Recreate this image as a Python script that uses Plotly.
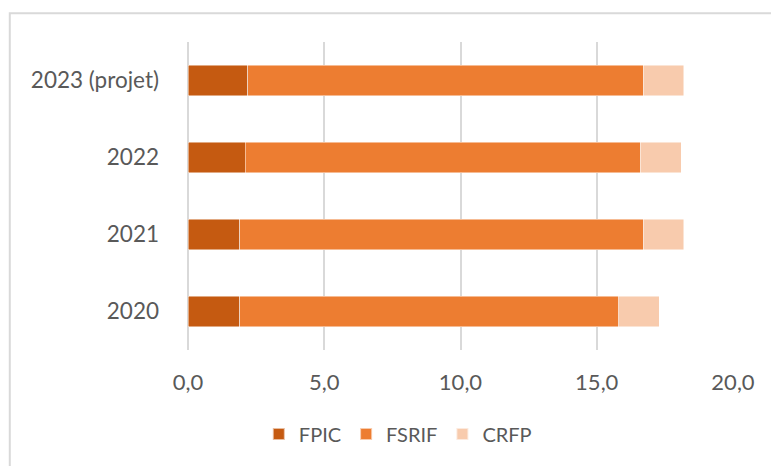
import plotly.graph_objects as go

# Péréquation horizontale, en milliards d'euros
years = ["2020", "2021", "2022", "2023 (projet)"]
fpic = [1.9, 1.9, 2.1, 2.2]
fsrif = [13.9, 14.8, 14.5, 14.5]
crfp = [1.5, 1.5, 1.5, 1.5]

series = [
    ("FPIC", fpic, "#C55A11"),
    ("FSRIF", fsrif, "#ED7D31"),
    ("CRFP", crfp, "#F8CBAD"),
]

FONT = "Lato"
TEXT = "#595959"
GRID = "#D9D9D9"

fig = go.Figure()
for name, vals, color in series:
    fig.add_trace(go.Bar(
        y=years, x=vals, name=name, orientation="h",
        marker=dict(color=color, line=dict(color="rgba(255,255,255,0.6)", width=0.8)),
    ))

fig.update_layout(
    width=771, height=466,
    barmode="stack", bargap=0.6,
    separators=", ",
    paper_bgcolor="white", plot_bgcolor="white",
    margin=dict(l=187.5, r=37.7, t=42, b=113.7),
    font=dict(family=FONT, color=TEXT, size=22),
    showlegend=True,
    legend=dict(
        orientation="h", x=0.385, xanchor="center", y=-0.273, yanchor="middle",
        font=dict(family=FONT, size=20, color=TEXT),
        traceorder="normal", itemsizing="constant",
    ),
    shapes=[dict(
        type="rect", xref="paper", yref="paper",
        x0=-0.327, x1=1.2, y0=-0.6, y1=1.0935,
        line=dict(color=GRID, width=2), fillcolor="rgba(0,0,0,0)",
    )],
)

fig.update_xaxes(
    range=[0, 20], dtick=5, tick0=0, tickformat=".1f",
    showgrid=True, gridcolor=GRID, gridwidth=1.5,
    zeroline=True, zerolinecolor=GRID, zerolinewidth=1.5,
    showline=False, ticks="",
    ticklabelstandoff=17,
    tickfont=dict(family=FONT, size=22, color=TEXT),
)
fig.update_yaxes(
    showgrid=False, zeroline=False, showline=False, ticks="",
    ticklabelstandoff=28,
    tickfont=dict(family=FONT, size=22.5, color=TEXT),
)

fig.write_html("out.html")
